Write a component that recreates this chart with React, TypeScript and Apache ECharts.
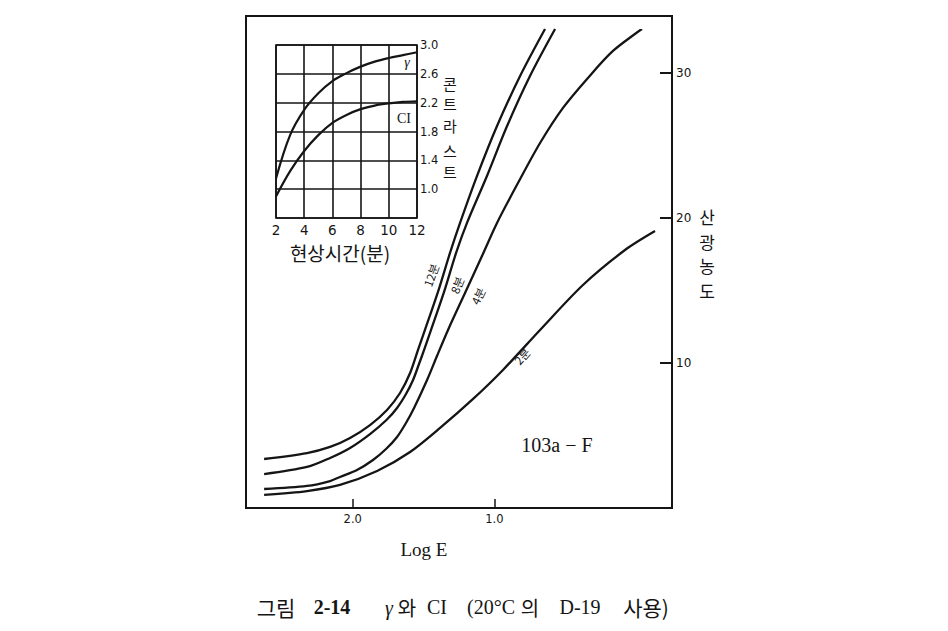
import React, { useEffect, useRef } from 'react';
import * as echarts from 'echarts';

// Main chart: Log E (decreasing to the right) vs diffuse density
const logE12 = [2.626, 2.323, 2.16, 2.019, 1.878, 1.758, 1.666, 1.595, 1.539, 1.49, 1.398, 1.313, 1.242, 1.122, 0.981, 0.818, 0.642];
const dens12 = [3.38, 3.79, 4.21, 4.83, 5.72, 6.76, 7.93, 9.31, 10.9, 12.28, 14.9, 17.59, 19.66, 22.9, 26.34, 29.79, 33.03];

const logE8 = [2.626, 2.323, 2.16, 2.019, 1.878, 1.762, 1.687, 1.624, 1.574, 1.532, 1.496, 1.447, 1.355, 1.27, 1.193, 1.052, 0.91, 0.748, 0.571];
const dens8 = [2.34, 2.83, 3.45, 4.14, 5.1, 6.07, 6.9, 7.86, 8.83, 9.93, 10.9, 12.28, 14.9, 17.59, 19.66, 22.9, 26.34, 29.79, 33.03];

const logE4 = [2.626, 2.323, 2.16, 2.09, 1.97, 1.857, 1.765, 1.687, 1.624, 1.567, 1.475, 1.405, 1.327, 1.207, 1.087, 0.981, 0.833, 0.677, 0.515, 0.345, 0.162, -0.043];
const dens4 = [1.31, 1.52, 1.86, 2.14, 2.62, 3.31, 4.07, 4.9, 5.86, 6.9, 8.83, 10.48, 12.28, 14.83, 17.38, 19.66, 22.41, 25.17, 27.59, 29.59, 31.52, 33.03];

const logE2 = [2.626, 2.323, 2.09, 1.828, 1.595, 1.383, 1.15, 0.939, 0.677, 0.374, 0.077, -0.135];
const dens2 = [0.9, 1.17, 1.59, 2.55, 3.86, 5.52, 7.52, 9.52, 12.28, 15.38, 17.79, 19.1];

const xTickValues = [1, 2];
const yTickValues = [10, 20, 30];

// Inset: development time (min) vs contrast
const devTime = [2, 3, 4, 5, 6, 7, 8, 9, 10, 11, 12];
const gammaVals = [1.15, 1.75, 2.1, 2.33, 2.5, 2.61, 2.7, 2.77, 2.82, 2.86, 2.9];
const ciVals = [0.9, 1.25, 1.53, 1.75, 1.92, 2.03, 2.11, 2.16, 2.19, 2.21, 2.22];
const insetYLabels = ['1.0', '1.4', '1.8', '2.2', '2.6', '3.0'];

const zip = (a: number[], b: number[]) => a.map((v, i) => [v, b[i]]);

const INK = '#151515';
const SERIF = "'Liberation Serif', 'DejaVu Serif', 'Noto Sans CJK KR', serif";
const SANS = "'DejaVu Sans', 'Noto Sans CJK KR', sans-serif";
const KR = "'Noto Sans CJK KR', sans-serif";

function txt(text: string, x: number, y: number, size: number, family: string, extra: any = {}, rotation = 0) {
  return {
    type: 'text',
    x,
    y,
    rotation,
    z: 100,
    style: {
      text,
      x: 0,
      y: 0,
      fill: INK,
      fontSize: size,
      fontFamily: family,
      align: 'center',
      verticalAlign: 'middle',
      textAlign: 'center',
      textVerticalAlign: 'middle',
      ...extra,
    },
  };
}

const deg = (d: number) => (d * Math.PI) / 180;

export default function App() {
  const ref = useRef<HTMLDivElement>(null);
  useEffect(() => {
    const chart = echarts.init(ref.current!, null, { renderer: 'svg' });
    const mainLine = (name: string, data: number[][]) => ({
      name,
      type: 'line',
      xAxisIndex: 0,
      yAxisIndex: 0,
      data,
      smooth: 0.3,
      showSymbol: false,
      symbol: 'none',
      lineStyle: { color: INK, width: 2.3 },
    });
    const insetLine = (name: string, data: number[][]) => ({
      name,
      type: 'line',
      xAxisIndex: 1,
      yAxisIndex: 1,
      data,
      smooth: 0.35,
      showSymbol: false,
      symbol: 'none',
      lineStyle: { color: INK, width: 2.2 },
      z: 5,
    });
    chart.setOption({
      animation: false,
      backgroundColor: '#ffffff',
      grid: [
        { left: 246, top: 16, width: 426, height: 492, show: true, borderColor: INK, borderWidth: 2, backgroundColor: 'transparent' },
        { left: 276, top: 45, width: 141, height: 173, show: true, borderColor: INK, borderWidth: 1.6, backgroundColor: 'transparent' },
      ],
      xAxis: [
        {
          type: 'value',
          gridIndex: 0,
          inverse: true,
          min: -0.255,
          max: 2.754,
          axisLine: { show: true, onZero: false, lineStyle: { color: INK, width: 2 } },
          axisTick: { show: true, inside: true, length: 9, customValues: xTickValues, lineStyle: { color: INK, width: 1.5 } },
          axisLabel: {
            show: true,
            customValues: xTickValues,
            formatter: (v: number) => v.toFixed(1),
            color: INK,
            fontSize: 11.5,
            fontFamily: SANS,
            margin: 5,
          },
          splitLine: { show: false },
        },
        {
          type: 'value',
          gridIndex: 1,
          min: 2,
          max: 12,
          interval: 2,
          axisLine: { show: false, onZero: false },
          axisTick: { show: false },
          axisLabel: { color: INK, fontSize: 13.5, fontFamily: SANS, margin: 5 },
          splitLine: { show: true, lineStyle: { color: INK, width: 1.6 } },
        },
      ],
      yAxis: [
        {
          type: 'value',
          gridIndex: 0,
          position: 'right',
          min: 0,
          max: 33.93,
          axisLine: { show: true, onZero: false, lineStyle: { color: INK, width: 2 } },
          axisTick: { show: true, inside: true, length: 12, customValues: yTickValues, lineStyle: { color: INK, width: 2 } },
          axisLabel: { show: true, customValues: yTickValues, color: INK, fontSize: 12, fontFamily: SANS, margin: 4 },
          splitLine: { show: false },
        },
        {
          type: 'value',
          gridIndex: 1,
          position: 'right',
          min: 0.6,
          max: 3.0,
          interval: 0.4,
          axisLine: { show: false, onZero: false },
          axisTick: { show: false },
          axisLabel: {
            color: INK,
            fontSize: 11.5,
            fontFamily: SANS,
            margin: 3,
            formatter: (v: number) => {
              const s = v.toFixed(1);
              return insetYLabels.indexOf(s) >= 0 ? s : '';
            },
          },
          splitLine: { show: true, lineStyle: { color: INK, width: 1.6 } },
        },
      ],
      series: [
        mainLine('12분', zip(logE12, dens12)),
        mainLine('8분', zip(logE8, dens8)),
        mainLine('4분', zip(logE4, dens4)),
        mainLine('2분', zip(logE2, dens2)),
        insetLine('γ', zip(devTime, gammaVals)),
        insetLine('CI', zip(devTime, ciVals)),
      ],
      graphic: [
        txt('γ', 407, 62, 14, SERIF, { fontStyle: 'italic' }),
        txt('CI', 404, 118, 14, SERIF),
        txt('콘', 450, 83, 15, KR),
        txt('트', 450, 103, 15, KR),
        txt('라', 450, 125, 15, KR),
        txt('스', 450, 150, 15, KR),
        txt('트', 450, 171, 15, KR),
        txt('현상시간(분)', 340, 252, 19, KR),
        txt('산', 707, 216, 17, KR),
        txt('광', 707, 241, 17, KR),
        txt('농', 707, 265, 17, KR),
        txt('도', 707, 290, 17, KR),
        txt('12분', 431, 275, 11.5, KR, {}, deg(70)),
        txt('8분', 457, 285, 11.5, KR, {}, deg(68)),
        txt('4분', 478, 296, 11.5, KR, {}, deg(64)),
        txt('2분', 522, 356, 11.5, KR, {}, deg(48)),
        txt('103a − F', 557, 445, 20, SERIF),
        txt('Log E', 424, 549, 19, SERIF),
        txt('그림', 276, 607, 21, KR),
        txt('2-14', 332, 607, 20, SERIF, { fontWeight: 'bold' }),
        txt('γ', 389, 608, 20, SERIF, { fontStyle: 'italic' }),
        txt('와', 407, 607, 20, KR),
        txt('CI', 437, 607, 20, SERIF),
        txt('(20°C', 491, 607, 20, SERIF),
        txt('의', 530, 607, 20, KR),
        txt('D-19', 580, 607, 20, SERIF),
        txt('사용)', 646, 607, 21, KR),
      ],
    });
    return () => chart.dispose();
  }, []);
  return (
    <div
      ref={ref}
      style={{ position: 'fixed', left: 0, top: 0, width: 948, height: 631, background: '#ffffff' }}
    />
  );
}
